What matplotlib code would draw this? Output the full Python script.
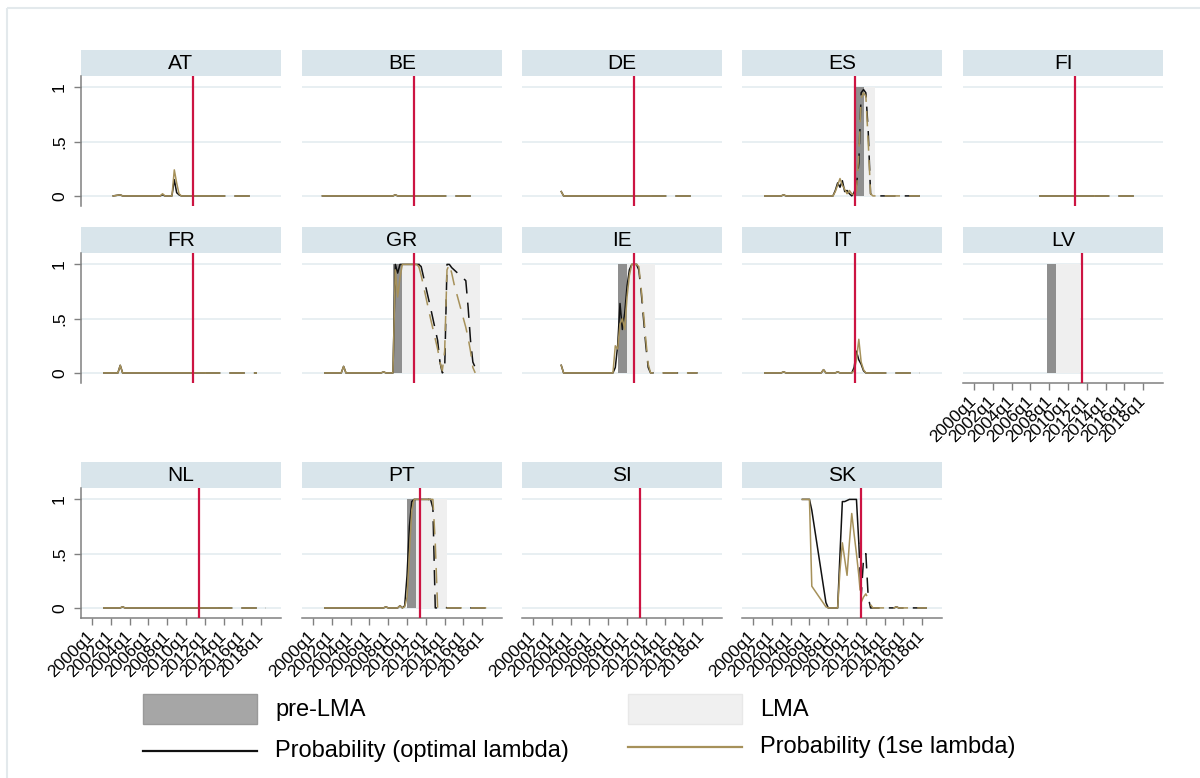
import matplotlib
matplotlib.use("Agg")
import matplotlib.pyplot as plt
import numpy as np
from matplotlib.patches import Rectangle
from matplotlib.lines import Line2D

plt.rcParams["font.family"] = ["Liberation Sans", "DejaVu Sans"]

# panel order (5 columns, 3 rows)
countries = ["AT", "BE", "DE", "ES", "FI",
             "FR", "GR", "IE", "IT", "LV",
             "NL", "PT", "SI", "SK"]

# quarters counted from 2000q1, probability for optimal lambda / 1se lambda
at_q = [9, 12, 13, 29, 30, 31, 34, 35, 36, 37, 38, 50, 70]
at_opt = [0, 0.01, 0, 0, 0.01, 0, 0, 0.15, 0.03, 0.01, 0, 0, 0]
at_lse = [0, 0.01, 0, 0, 0.02, 0, 0, 0.24, 0.12, 0.02, 0, 0, 0]

be_q = [4, 34, 35, 36, 50, 69]
be_opt = [0, 0, 0.01, 0, 0, 0]
be_lse = [0, 0, 0.01, 0, 0, 0]

de_q = [12, 13, 50, 69]
de_opt = [0.04, 0, 0, 0]
de_lse = [0.04, 0, 0, 0]

es_q = [5, 12, 13, 14, 34, 35, 36, 37, 38, 39, 40, 41, 42, 43, 44, 45, 46, 47, 48, 49, 50, 51, 71]
es_opt = [0, 0, 0.01, 0, 0, 0.05, 0.12, 0.08, 0.14, 0.04, 0.05, 0.02, 0, 0.03, 0.1, 0.3, 0.95, 0.98, 0.95, 0.6, 0.02, 0, 0]
es_lse = [0, 0, 0.01, 0, 0, 0.04, 0.1, 0.16, 0.1, 0.06, 0.02, 0.05, 0.02, 0.01, 0.05, 0.4, 0.9, 0.95, 0.92, 0.5, 0.02, 0, 0]

fi_q = [28, 51, 71]
fi_opt = [0, 0, 0]
fi_lse = [0, 0, 0]

fr_q = [5, 11, 12, 13, 48, 70]
fr_opt = [0, 0, 0.07, 0, 0, 0]
fr_lse = [0, 0, 0.07, 0, 0, 0]

gr_q = [5, 12, 13, 14, 29, 30, 31, 34, 35, 36, 37, 38, 44, 45, 46, 50, 53, 54, 55, 56, 57, 58, 59, 60, 65, 66, 67, 68, 69]
gr_opt = [0, 0, 0.06, 0, 0, 0.01, 0, 0, 1.0, 0.92, 1.0, 1.0, 1.0, 1.0, 0.98, 0.6, 0.3, 0.1, 0, 0.02, 1.0, 1.0, 0.97, 0.95, 0.85, 0.6, 0.3, 0.1, 0.05]
gr_lse = [0, 0, 0.06, 0, 0, 0.01, 0, 0, 0.95, 0.7, 0.88, 1.0, 1.0, 0.98, 0.9, 0.5, 0.22, 0.1, 0.02, 0.2, 0.95, 1.0, 0.92, 0.82, 0.42, 0.32, 0.2, 0.05, 0]

ie_q = [12, 13, 34, 35, 36, 37, 38, 39, 40, 41, 42, 43, 44, 45, 46, 47, 48, 49, 50, 70]
ie_opt = [0.07, 0, 0, 0.05, 0.25, 0.64, 0.4, 0.55, 0.8, 0.95, 1.0, 1.0, 1.0, 0.95, 0.75, 0.5, 0.25, 0.05, 0, 0]
ie_lse = [0.07, 0, 0, 0.25, 0.22, 0.45, 0.5, 0.4, 0.7, 0.9, 1.0, 1.0, 1.0, 0.98, 0.78, 0.55, 0.3, 0.08, 0, 0]

it_q = [5, 12, 13, 14, 29, 30, 31, 35, 36, 37, 42, 43, 44, 45, 46, 47, 48, 50, 71]
it_opt = [0, 0, 0.01, 0, 0, 0.03, 0, 0, 0.01, 0, 0, 0.05, 0.2, 0.12, 0.08, 0.02, 0, 0, 0]
it_lse = [0, 0, 0.01, 0, 0, 0.03, 0, 0, 0.01, 0, 0, 0.02, 0.12, 0.31, 0.1, 0.03, 0, 0, 0]

nl_q = [5, 12, 13, 14, 53, 74]
nl_opt = [0, 0, 0.01, 0, 0, 0]
nl_lse = [0, 0, 0.01, 0, 0, 0]

pt_q = [5, 30, 31, 32, 36, 37, 38, 39, 40, 41, 42, 43, 49, 50, 51, 52, 53, 55, 56, 57, 74]
pt_opt = [0, 0, 0.01, 0, 0, 0.02, 0, 0.02, 0.3, 0.75, 0.98, 1.0, 1.0, 1.0, 0.92, 0, 0, 0, 0.01, 0, 0]
pt_lse = [0, 0, 0.01, 0, 0, 0.02, 0, 0.01, 0.1, 0.5, 0.9, 1.0, 1.0, 1.0, 1.0, 0.6, 0, 0, 0, 0, 0]

sk_q = [21, 24, 25, 31, 32, 36, 37, 38, 39, 40, 41, 42, 43, 44, 45, 46, 47, 48, 49, 50, 51, 60, 61, 62, 74]
sk_opt = [1.0, 1.0, 0.9, 0.05, 0, 0, 0.5, 0.98, 0.98, 0.99, 1.0, 1.0, 1.0, 1.0, 0.6, 0.1, 0.45, 0.5, 0.1, 0, 0, 0, 0.01, 0, 0]
sk_lse = [1.0, 1.0, 0.2, 0.01, 0, 0, 0.35, 0.6, 0.45, 0.3, 0.6, 0.87, 0.68, 0.5, 0.3, 0.05, 0.1, 0.13, 0.08, 0.03, 0, 0, 0.01, 0, 0]

series = {
    "AT": (at_q, at_opt, at_lse), "BE": (be_q, be_opt, be_lse), "DE": (de_q, de_opt, de_lse),
    "ES": (es_q, es_opt, es_lse), "FI": (fi_q, fi_opt, fi_lse), "FR": (fr_q, fr_opt, fr_lse),
    "GR": (gr_q, gr_opt, gr_lse), "IE": (ie_q, ie_opt, ie_lse), "IT": (it_q, it_opt, it_lse),
    "NL": (nl_q, nl_opt, nl_lse), "PT": (pt_q, pt_opt, pt_lse), "SK": (sk_q, sk_opt, sk_lse),
}

# quarter after which the lines are dashed
dashed_from = {"AT": 50, "BE": 50, "DE": 50, "ES": 43, "FI": 51, "FR": 48, "GR": 45,
               "IE": 44, "IT": 50, "NL": 53, "PT": 49, "SK": 45}

# red vertical line
red_line = {"AT": 43, "BE": 43, "DE": 43, "ES": 43.5, "FI": 43, "FR": 43, "GR": 43,
            "IE": 43, "IT": 43.5, "LV": 46, "NL": 45.5, "PT": 45.5, "SI": 45.5, "SK": 46}

# shaded periods (start, end)
pre_lma = {"ES": (44, 47), "GR": (34, 38), "IE": (36, 40), "LV": (31, 35), "PT": (40, 44)}
lma = {"ES": (47, 52), "GR": (38, 71), "IE": (40, 52), "LV": (35, 45), "PT": (44, 57)}

xtick_q = [0, 8, 16, 24, 32, 40, 48, 56, 64, 72]
xtick_labels = ["2000q1", "2002q1", "2004q1", "2006q1", "2008q1",
                "2010q1", "2012q1", "2014q1", "2016q1", "2018q1"]
ytick_vals = [0, 0.5, 1]
ytick_labels = ["0", ".5", "1"]

BLACK = "#111111"
KHAKI = "#a6915a"
RED = "#cc1442"
DARK = "#8f8f8f"
LIGHT = "#efefef"
STRIP = "#d9e5eb"
GRID = "#e6eef1"
AXIS = "#808080"

W, H = 1200, 778
fig = plt.figure(figsize=(W / 100, H / 100), dpi=100)

# overlay for frame and legend, in pixel units
bg = fig.add_axes([0, 0, 1, 1])
bg.set_xlim(0, W)
bg.set_ylim(H, 0)
bg.axis("off")
bg.add_patch(Rectangle((7, 8), W + 10, H + 10, facecolor="none", edgecolor="#e3e9ec", lw=1.5))

col_x = [81, 302, 522, 742, 963]
row_top = [76, 253, 488]
plot_w, plot_h, strip_h = 200, 130, 26
with_xaxis = {"LV", "NL", "PT", "SI", "SK"}


def px_axes(x, y, w, h):
    return fig.add_axes([x / W, 1 - (y + h) / H, w / W, h / H])


def draw_series(ax, qs, vals, split, color):
    qs = np.array(qs)
    vals = np.array(vals)
    ax.plot(qs[qs <= split], vals[qs <= split], color=color, lw=1.1, zorder=3)
    ax.plot(qs[qs >= split], vals[qs >= split], color=color, lw=1.1, dashes=(10, 6), zorder=3)


for i, c in enumerate(countries):
    row, col = divmod(i, 5)
    x0, y0 = col_x[col], row_top[row]

    strip = px_axes(x0, y0 - strip_h, plot_w, strip_h)
    strip.set_facecolor(STRIP)
    strip.set_xticks([])
    strip.set_yticks([])
    for s in strip.spines.values():
        s.set_visible(False)
    strip.text(0.5, 0.47, c, ha="center", va="center", fontsize=15, transform=strip.transAxes)

    ax = px_axes(x0, y0, plot_w, plot_h)
    ax.set_xlim(-4.7, 80.4)
    ax.set_ylim(-0.093, 1.105)
    for y in ytick_vals:
        ax.axhline(y, color=GRID, lw=1.3, zorder=0)

    if c in pre_lma:
        a, b = pre_lma[c]
        ax.fill_between([a, b], 0, 1, color=DARK, lw=0, zorder=1)
    if c in lma:
        a, b = lma[c]
        ax.fill_between([a, b], 0, 1, color=LIGHT, lw=0, zorder=1)

    if c in series:
        qs, opt, lse = series[c]
        draw_series(ax, qs, opt, dashed_from[c], BLACK)
        draw_series(ax, qs, lse, dashed_from[c], KHAKI)

    ax.axvline(red_line[c], color=RED, lw=1.6, zorder=4)

    for s in ["top", "right"]:
        ax.spines[s].set_visible(False)

    if col == 0:
        ax.spines["left"].set_color(AXIS)
        ax.spines["left"].set_linewidth(1.1)
        ax.set_yticks(ytick_vals)
        ax.set_yticklabels(ytick_labels, rotation=90, va="center", fontsize=12.5)
        ax.tick_params(axis="y", length=5, width=1, color=AXIS, pad=5)
    else:
        ax.spines["left"].set_visible(False)
        ax.set_yticks([])

    if c in with_xaxis:
        ax.spines["bottom"].set_color(AXIS)
        ax.spines["bottom"].set_linewidth(1.1)
        ax.set_xticks(xtick_q)
        ax.set_xticklabels(xtick_labels, rotation=45, ha="right", va="center",
                           rotation_mode="anchor", fontsize=12.5)
        ax.tick_params(axis="x", length=5, width=1, color=AXIS, pad=6)
    else:
        ax.spines["bottom"].set_visible(False)
        ax.set_xticks([])
    ax.set_facecolor("none")

# legend
bg.add_patch(Rectangle((143, 694), 114, 30, facecolor="#a6a6a6", edgecolor="#999999", lw=1))
bg.text(275, 710, "pre-LMA", fontsize=17, va="center")
bg.add_patch(Rectangle((628, 694), 114, 30, facecolor="#f0f0f0", edgecolor="#e8e8e8", lw=1))
bg.text(760, 710, "LMA", fontsize=17, va="center")
bg.add_line(Line2D([143, 257], [751, 751], color=BLACK, lw=1.6))
bg.text(275, 751, "Probability (optimal lambda)", fontsize=17, va="center")
bg.add_line(Line2D([628, 742], [747, 747], color=KHAKI, lw=1.6))
bg.text(760, 747, "Probability (1se lambda)", fontsize=17, va="center")

fig.savefig("out.png", dpi=100, facecolor="white")
